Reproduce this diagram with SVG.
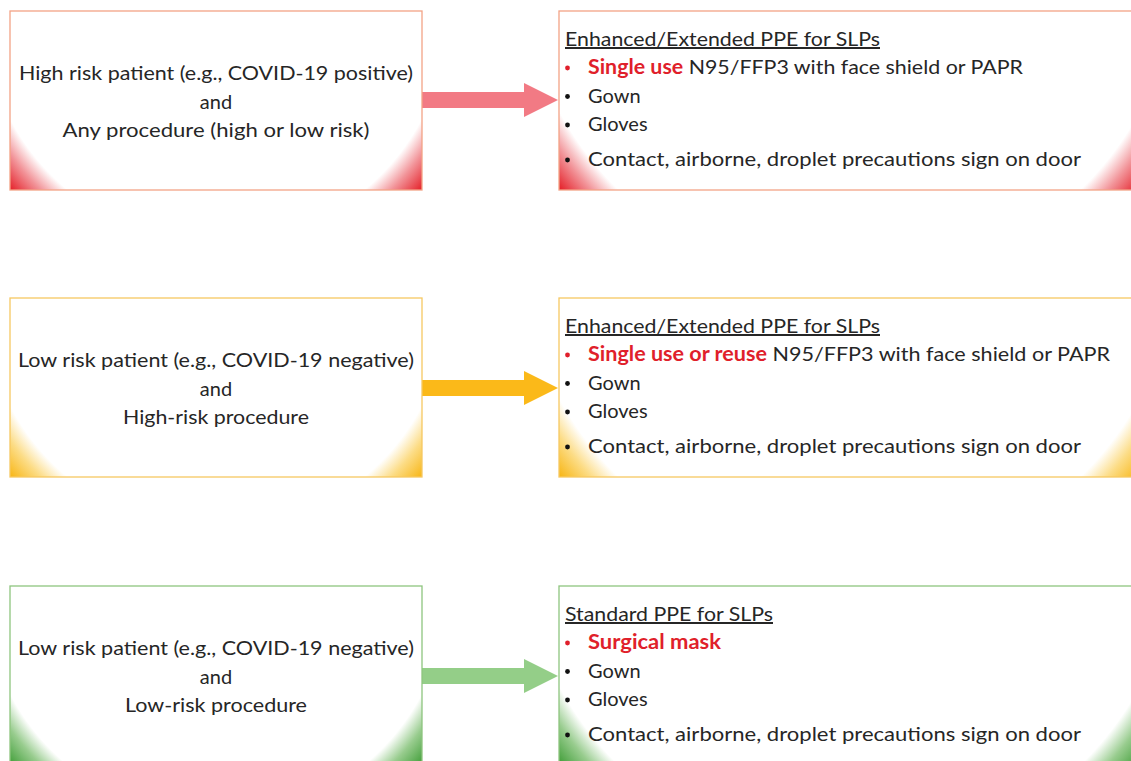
<svg xmlns="http://www.w3.org/2000/svg" width="1131" height="761" viewBox="0 0 1131 761">
<style>
  .t { font-family: Lato, "Liberation Sans", sans-serif; font-size: 20px; fill: #262626; }
  .c { text-anchor: middle; }
  .b { font-weight: bold; fill: #e01f2b; }
  .u { text-decoration: underline; }
  .box { stroke-width: 1.3; }
  .dotk { fill: #111; }
  .dotr { fill: #e01f2b; }
</style>
<defs>
  <radialGradient id="gLR" gradientUnits="userSpaceOnUse" cx="206" cy="0" r="275">
    <stop offset="0.845" stop-color="#ffffff"/>
    <stop offset="0.91" stop-color="#f29499"/>
    <stop offset="1" stop-color="#e3141d"/>
  </radialGradient>
  <radialGradient id="gRR" gradientUnits="userSpaceOnUse" cx="290.5" cy="-57" r="376">
    <stop offset="0.878" stop-color="#ffffff"/>
    <stop offset="0.93" stop-color="#f29499"/>
    <stop offset="1" stop-color="#e3141d"/>
  </radialGradient>
  <radialGradient id="gLY" gradientUnits="userSpaceOnUse" cx="206" cy="0" r="275">
    <stop offset="0.845" stop-color="#ffffff"/>
    <stop offset="0.91" stop-color="#fcdc85"/>
    <stop offset="1" stop-color="#f7b20a"/>
  </radialGradient>
  <radialGradient id="gRY" gradientUnits="userSpaceOnUse" cx="290.5" cy="-57" r="376">
    <stop offset="0.878" stop-color="#ffffff"/>
    <stop offset="0.93" stop-color="#fcdc85"/>
    <stop offset="1" stop-color="#f7b20a"/>
  </radialGradient>
  <radialGradient id="gLG" gradientUnits="userSpaceOnUse" cx="206" cy="0" r="275">
    <stop offset="0.845" stop-color="#ffffff"/>
    <stop offset="0.91" stop-color="#98cc8e"/>
    <stop offset="1" stop-color="#36982e"/>
  </radialGradient>
  <radialGradient id="gRG" gradientUnits="userSpaceOnUse" cx="290.5" cy="-57" r="376">
    <stop offset="0.878" stop-color="#ffffff"/>
    <stop offset="0.93" stop-color="#98cc8e"/>
    <stop offset="1" stop-color="#36982e"/>
  </radialGradient>
</defs>
<rect width="1131" height="761" fill="#ffffff"/>

<g id="connectors">
  <path d="M422,92 H524 V83 L558,100 L524,117 V108 H422 Z" fill="#f27a84"/>
  <path d="M422,380 H524 V371 L558,388 L524,405 V396 H422 Z" fill="#fbb919"/>
  <path d="M422,668 H524 V659 L558,676 L524,693 V684 H422 Z" fill="#94ce88"/>
</g>

<g id="cond-high" transform="translate(10,11)">
  <rect class="box" x="0" y="0" width="412" height="179" fill="url(#gLR)" stroke="#f3a386"/>
  <text class="t c" x="206" y="69" textLength="394" lengthAdjust="spacingAndGlyphs">High risk patient (e.g., COVID-19 positive)</text>
  <text class="t c" x="206" y="97.5">and</text>
  <text class="t c" x="206" y="126" textLength="307" lengthAdjust="spacingAndGlyphs">Any procedure (high or low risk)</text>
</g>

<g id="ppe-high" transform="translate(559,11)">
  <rect class="box" x="0" y="0" width="581" height="179" fill="url(#gRR)" stroke="#f3a386"/>
  <text class="t u" x="6" y="35" textLength="315" lengthAdjust="spacingAndGlyphs">Enhanced/Extended PPE for SLPs</text>
  <circle class="dotr" cx="8.5" cy="57" r="2.4"/>
  <text class="t" x="29" y="63" textLength="435" lengthAdjust="spacingAndGlyphs"><tspan class="b">Single use</tspan> N95/FFP3 with face shield or PAPR</text>
  <circle class="dotk" cx="8.5" cy="85.5" r="2.4"/>
  <text class="t" x="29" y="91.5">Gown</text>
  <circle class="dotk" cx="8.5" cy="114" r="2.4"/>
  <text class="t" x="29" y="120">Gloves</text>
  <circle class="dotk" cx="8.5" cy="149" r="2.4"/>
  <text class="t" x="29" y="155" textLength="493" lengthAdjust="spacingAndGlyphs">Contact, airborne, droplet precautions sign on door</text>
</g>

<g id="cond-mid" transform="translate(10,298)">
  <rect class="box" x="0" y="0" width="412" height="179" fill="url(#gLY)" stroke="#f6c862"/>
  <text class="t c" x="206" y="69" textLength="396" lengthAdjust="spacingAndGlyphs">Low risk patient (e.g., COVID-19 negative)</text>
  <text class="t c" x="206" y="97.5">and</text>
  <text class="t c" x="206" y="126" textLength="186" lengthAdjust="spacingAndGlyphs">High-risk procedure</text>
</g>

<g id="ppe-mid" transform="translate(559,298)">
  <rect class="box" x="0" y="0" width="581" height="179" fill="url(#gRY)" stroke="#f6c862"/>
  <text class="t u" x="6" y="35" textLength="315" lengthAdjust="spacingAndGlyphs">Enhanced/Extended PPE for SLPs</text>
  <circle class="dotr" cx="8.5" cy="57" r="2.4"/>
  <text class="t" x="29" y="63" textLength="522" lengthAdjust="spacingAndGlyphs"><tspan class="b">Single use or reuse</tspan> N95/FFP3 with face shield or PAPR</text>
  <circle class="dotk" cx="8.5" cy="85.5" r="2.4"/>
  <text class="t" x="29" y="91.5">Gown</text>
  <circle class="dotk" cx="8.5" cy="114" r="2.4"/>
  <text class="t" x="29" y="120">Gloves</text>
  <circle class="dotk" cx="8.5" cy="149" r="2.4"/>
  <text class="t" x="29" y="155" textLength="493" lengthAdjust="spacingAndGlyphs">Contact, airborne, droplet precautions sign on door</text>
</g>

<g id="cond-low" transform="translate(10,586)">
  <rect class="box" x="0" y="0" width="412" height="179" fill="url(#gLG)" stroke="#8ec57f"/>
  <text class="t c" x="206" y="69" textLength="396" lengthAdjust="spacingAndGlyphs">Low risk patient (e.g., COVID-19 negative)</text>
  <text class="t c" x="206" y="97.5">and</text>
  <text class="t c" x="206" y="126" textLength="182" lengthAdjust="spacingAndGlyphs">Low-risk procedure</text>
</g>

<g id="ppe-low" transform="translate(559,586)">
  <rect class="box" x="0" y="0" width="581" height="179" fill="url(#gRG)" stroke="#8ec57f"/>
  <text class="t u" x="6" y="35" textLength="208" lengthAdjust="spacingAndGlyphs">Standard PPE for SLPs</text>
  <circle class="dotr" cx="8.5" cy="57" r="2.4"/>
  <text class="t b" x="29" y="63" textLength="133" lengthAdjust="spacingAndGlyphs">Surgical mask</text>
  <circle class="dotk" cx="8.5" cy="85.5" r="2.4"/>
  <text class="t" x="29" y="91.5">Gown</text>
  <circle class="dotk" cx="8.5" cy="114" r="2.4"/>
  <text class="t" x="29" y="120">Gloves</text>
  <circle class="dotk" cx="8.5" cy="149" r="2.4"/>
  <text class="t" x="29" y="155" textLength="493" lengthAdjust="spacingAndGlyphs">Contact, airborne, droplet precautions sign on door</text>
</g>
</svg>
